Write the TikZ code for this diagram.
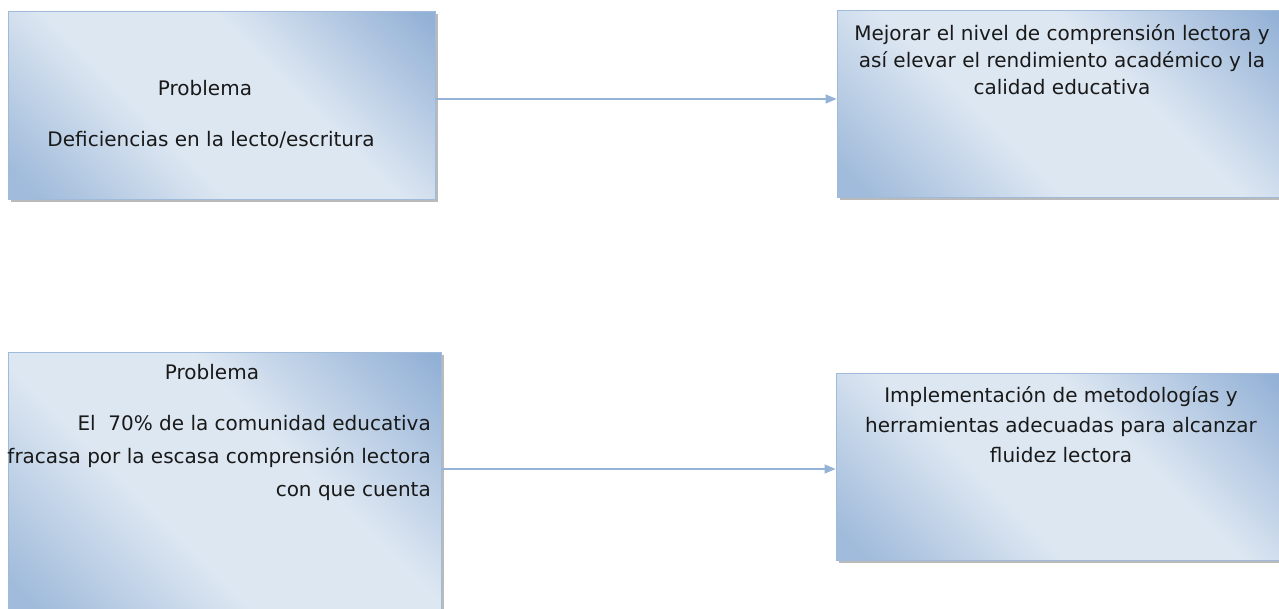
\documentclass[tikz,border=0pt]{standalone}
\usepackage{fontspec}
\setmainfont{DejaVu Sans}
\usetikzlibrary{arrows.meta,shadows}
\definecolor{bA}{RGB}{160,187,219}
\definecolor{bB}{RGB}{147,177,214}
\definecolor{bL}{RGB}{221,231,242}
\definecolor{bord}{RGB}{160,186,218}
\definecolor{arr}{RGB}{149,179,215}
\definecolor{txt}{RGB}{25,25,25}
\pgfdeclarehorizontalshading{boxshade}{100bp}{color(0bp)=(bA); color(18bp)=(bA); color(40bp)=(bL); color(60bp)=(bL); color(84bp)=(bB); color(100bp)=(bB)}
\begin{document}
\begin{tikzpicture}[x=1pt,y=-1pt,
  boxnode/.style={draw=bord, line width=0.8pt, shading=boxshade, shading angle=45, inner sep=0pt,
     drop shadow={shadow xshift=2.5pt, shadow yshift=-2.5pt, fill=black!45, opacity=0.6}},
  lbl/.style={text=txt, inner sep=0pt, font=\fontsize{20}{27}\selectfont},
  conn/.style={draw=arr, line width=1.4pt, -{Triangle[length=11pt,width=9pt]}}]
\useasboundingbox (0,0) rectangle (1279,608);
\clip (0,0) rectangle (1279,608);
\node[boxnode, minimum width=427pt, minimum height=188pt] (b1) at (221.5,105) {};
\node[boxnode, minimum width=448pt, minimum height=187pt] (b2) at (1061,103.5) {};
\node[boxnode, minimum width=433pt, minimum height=263pt] (b3) at (224.5,483.5) {};
\node[boxnode, minimum width=449pt, minimum height=187pt] (b4) at (1060.5,466.5) {};
\node[lbl] (t1a) at (205,88) {Problema};
\node[lbl] (t1b) at (211,140) {Deficiencias en la lecto/escritura};
\node[lbl, align=center] (t2) at (1062,60) {Mejorar el nivel de comprensión lectora y\\así elevar el rendimiento académico y la\\calidad educativa};
\node[lbl] (t3a) at (212,372) {Problema};
\node[lbl, align=right, anchor=east, font=\fontsize{20}{33}\selectfont] (t3b) at (431,458) {El\ \ 70\% de la comunidad educativa\\fracasa por la escasa comprensión lectora\\con que cuenta};
\node[lbl, align=center, font=\fontsize{20}{30}\selectfont] (t4) at (1061,425) {Implementación de metodologías y\\herramientas adecuadas para alcanzar\\fluidez lectora};
\draw[conn] ([yshift=6pt]b1.east) -- ([yshift=6pt]b1.east -| b2.west);
\draw[conn] ([yshift=14.5pt]b3.east) -- ([yshift=14.5pt]b3.east -| b4.west);
\end{tikzpicture}
\end{document}
